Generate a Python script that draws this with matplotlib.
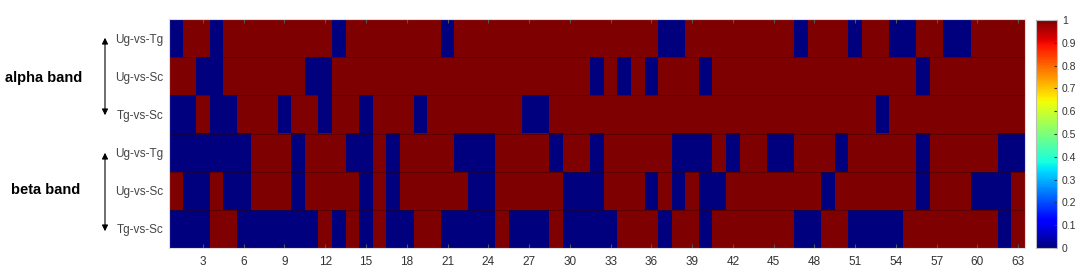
import numpy as np
import matplotlib.pyplot as plt

plt.rcParams['font.family'] = ['Liberation Sans', 'DejaVu Sans']

# 1 = red (value 1), 0 = blue (value 0); columns 1..63
row_labels = ["Ug-vs-Tg", "Ug-vs-Sc", "Tg-vs-Sc", "Ug-vs-Tg", "Ug-vs-Sc", "Tg-vs-Sc"]

alpha_ug_tg = [0,1,1,0,1,1,1,1,1,1, 1,1,0,1,1,1,1,1,1,1, 0,1,1,1,1,1,1,1,1,1,
               1,1,1,1,1,1,0,0,1,1, 1,1,1,1,1,1,0,1,1,1, 0,1,1,0,0,1,1,0,0,1, 1,1,1]
alpha_ug_sc = [1,1,0,0,1,1,1,1,1,1, 0,0,1,1,1,1,1,1,1,1, 1,1,1,1,1,1,1,1,1,1,
               1,0,1,0,1,0,1,1,1,0, 1,1,1,1,1,1,1,1,1,1, 1,1,1,1,1,0,1,1,1,1, 1,1,1]
alpha_tg_sc = [0,0,1,0,0,1,1,1,0,1, 1,0,1,1,0,1,1,1,0,1, 1,1,1,1,1,1,0,0,1,1,
               1,1,1,1,1,1,1,1,1,1, 1,1,1,1,1,1,1,1,1,1, 1,1,0,1,1,1,1,1,1,1, 1,1,1]
beta_ug_tg = [0,0,0,0,0,0,1,1,1,0, 1,1,1,0,0,1,0,1,1,1, 1,0,0,0,1,1,1,1,0,1,
              1,0,1,1,1,1,1,0,0,0, 1,0,1,1,0,0,1,1,1,0, 1,1,1,1,1,0,1,1,1,1, 1,0,0]
beta_ug_sc = [1,0,0,1,0,0,1,1,1,0, 1,1,1,1,0,1,0,1,1,1, 1,1,0,0,1,1,1,1,1,0,
              0,0,1,1,1,0,1,0,1,0, 0,1,1,1,1,1,1,1,0,1, 1,1,1,1,1,0,1,1,1,0, 0,0,1]
beta_tg_sc = [0,0,0,1,1,0,0,0,0,0, 0,1,0,1,0,1,0,0,1,1, 0,0,0,0,1,0,0,0,1,0,
              0,0,0,1,1,1,0,1,1,0, 1,1,1,1,1,1,0,0,1,1, 0,0,0,0,1,1,1,1,1,1, 1,0,1]

data = np.array([alpha_ug_tg, alpha_ug_sc, alpha_tg_sc,
                 beta_ug_tg, beta_ug_sc, beta_tg_sc], dtype=float)
ncol = data.shape[1]

fig = plt.figure(figsize=(10.84, 2.70), dpi=100)
W, H = 1084, 270
ax = fig.add_axes([169 / W, 1 - 248 / H, (1025 - 169) / W, (248 - 19) / H])
im = ax.imshow(data, cmap="jet", vmin=0, vmax=1, aspect="auto",
               interpolation="nearest",
               extent=[0.5, ncol + 0.5, data.shape[0] + 0.5, 0.5])
for yb in np.arange(1.5, data.shape[0], 1):
    ax.axhline(yb, color="#300000", lw=0.6, alpha=0.5)

ax.set_xticks(np.arange(3, ncol + 1, 3))
ax.set_yticks(np.arange(1, data.shape[0] + 1))
ax.set_yticklabels(row_labels)
ax.tick_params(axis="x", direction="in", length=3, labelsize=8.5, colors="#333333",
               top=True, pad=6, color="#555555")
ax.tick_params(axis="y", length=0, labelsize=8.5, colors="#444444", pad=4)
for s in ax.spines.values():
    s.set_color("#dddddd")
    s.set_linewidth(0.8)

cax = fig.add_axes([1036 / W, 1 - 248 / H, 21 / W, (248 - 20) / H])
cb = fig.colorbar(im, cax=cax, ticks=np.arange(0, 1.01, 0.1))
cb.ax.set_yticklabels(["0", "0.1", "0.2", "0.3", "0.4", "0.5", "0.6", "0.7", "0.8", "0.9", "1"])
cb.ax.tick_params(labelsize=7.5, length=2, direction="in", colors="#333333")
cb.outline.set_edgecolor("#bbbbbb")

# band labels and arrows
fig.text(44 / W, 1 - 78 / H, "alpha band", ha="center", va="center",
         fontsize=10.5, fontweight="bold")
fig.text(46 / W, 1 - 190 / H, "beta band", ha="center", va="center",
         fontsize=10.5, fontweight="bold")
for y0, y1 in [(35, 118), (150, 234)]:
    fig.add_artist(plt.Annotation("", xy=(105 / W, 1 - y0 / H), xytext=(105 / W, 1 - y1 / H),
                                  xycoords="figure fraction", textcoords="figure fraction",
                                  arrowprops=dict(arrowstyle="<|-|>", color="black",
                                                  lw=0.8, mutation_scale=9)))

fig.savefig("out.png", dpi=100)
